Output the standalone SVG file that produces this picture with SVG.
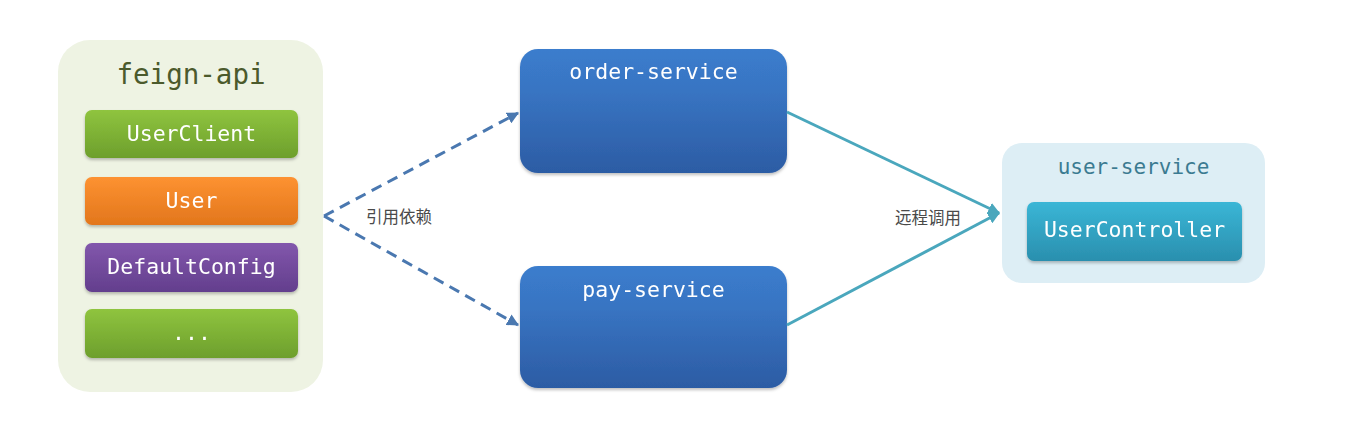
<svg xmlns="http://www.w3.org/2000/svg" width="1351" height="428" viewBox="0 0 1351 428">
<style>
.mono{font-family:"DejaVu Sans Mono","Liberation Mono",monospace;text-anchor:middle}
.w{fill:#ffffff;font-size:21.5px}
.cn{font-family:"Noto Sans CJK SC","Noto Sans",sans-serif;font-size:16.5px;fill:#4a4a4a}
</style>
<defs>
<linearGradient id="gGreen" x1="0" y1="0" x2="0" y2="1"><stop offset="0" stop-color="#8fc43f"/><stop offset="1" stop-color="#6d9f2c"/></linearGradient>
<linearGradient id="gOrange" x1="0" y1="0" x2="0" y2="1"><stop offset="0" stop-color="#fd9231"/><stop offset="1" stop-color="#e2761c"/></linearGradient>
<linearGradient id="gPurple" x1="0" y1="0" x2="0" y2="1"><stop offset="0" stop-color="#8257ac"/><stop offset="1" stop-color="#633e8d"/></linearGradient>
<linearGradient id="gBlue" x1="0" y1="0" x2="0" y2="1"><stop offset="0" stop-color="#3b7dcd"/><stop offset="0.35" stop-color="#3874c2"/><stop offset="1" stop-color="#2c5ca4"/></linearGradient>
<linearGradient id="gTeal" x1="0" y1="0" x2="0" y2="1"><stop offset="0" stop-color="#3ab6d6"/><stop offset="1" stop-color="#2a8fae"/></linearGradient>
<filter id="sh" x="-10%" y="-10%" width="120%" height="130%"><feDropShadow dx="0" dy="2" stdDeviation="1.5" flood-color="#000" flood-opacity="0.25"/></filter>
<marker id="aBlue" viewBox="0 0 10 10" refX="9" refY="5" markerWidth="4" markerHeight="4" orient="auto"><path d="M0,0 L10,5 L0,10 z" fill="#4a78b0"/></marker>
<marker id="aTeal" viewBox="0 0 10 10" refX="9" refY="5" markerWidth="4" markerHeight="4" orient="auto"><path d="M0,0 L10,5 L0,10 z" fill="#4aa7bd"/></marker>
</defs>

<g id="feign-api">
<rect x="58" y="40" width="265" height="352" rx="32" fill="#eef3e3"/>
<text class="mono" x="191" y="84" font-size="27.5" fill="#4b5a2c">feign-api</text>
</g>
<g id="userclient" filter="url(#sh)">
<rect x="85" y="110" width="213" height="48" rx="7" fill="url(#gGreen)"/>
<text class="mono w" x="191.5" y="141">UserClient</text>
</g>
<g id="user" filter="url(#sh)">
<rect x="85" y="177" width="213" height="48" rx="7" fill="url(#gOrange)"/>
<text class="mono w" x="191.5" y="208">User</text>
</g>
<g id="defaultconfig" filter="url(#sh)">
<rect x="85" y="243" width="213" height="49" rx="7" fill="url(#gPurple)"/>
<text class="mono w" x="191.5" y="274">DefaultConfig</text>
</g>
<g id="more" filter="url(#sh)">
<rect x="85" y="309" width="213" height="49" rx="7" fill="url(#gGreen)"/>
<text class="mono w" x="191.5" y="340">...</text>
</g>

<g id="order-service" filter="url(#sh)">
<rect x="520" y="49" width="267" height="124" rx="18" fill="url(#gBlue)"/>
<text class="mono w" x="653.5" y="79">order-service</text>
</g>
<g id="pay-service" filter="url(#sh)">
<rect x="520" y="266" width="267" height="122" rx="18" fill="url(#gBlue)"/>
<text class="mono w" x="653.5" y="297">pay-service</text>
</g>

<g id="user-service">
<rect x="1002" y="143" width="263" height="140" rx="20" fill="#ddeef5"/>
<text class="mono" x="1133.5" y="174" font-size="21" fill="#3b7b91">user-service</text>
</g>
<g id="usercontroller" filter="url(#sh)">
<rect x="1027" y="202" width="215" height="59" rx="7" fill="url(#gTeal)"/>
<text class="mono w" x="1134.5" y="237">UserController</text>
</g>

<g id="connectors">
<path d="M324,216 L518,113" fill="none" stroke="#4a78b0" stroke-width="3" stroke-dasharray="11,7" marker-end="url(#aBlue)"/>
<path d="M324,216 L518,325" fill="none" stroke="#4a78b0" stroke-width="3" stroke-dasharray="11,7" marker-end="url(#aBlue)"/>
<path d="M787,112 L999,213" fill="none" stroke="#4aa7bd" stroke-width="3" marker-end="url(#aTeal)"/>
<path d="M787,325 L999,213" fill="none" stroke="#4aa7bd" stroke-width="3" marker-end="url(#aTeal)"/>
<text class="cn" x="366" y="223">引用依赖</text>
<text class="cn" x="895" y="224">远程调用</text>
</g>
</svg>
